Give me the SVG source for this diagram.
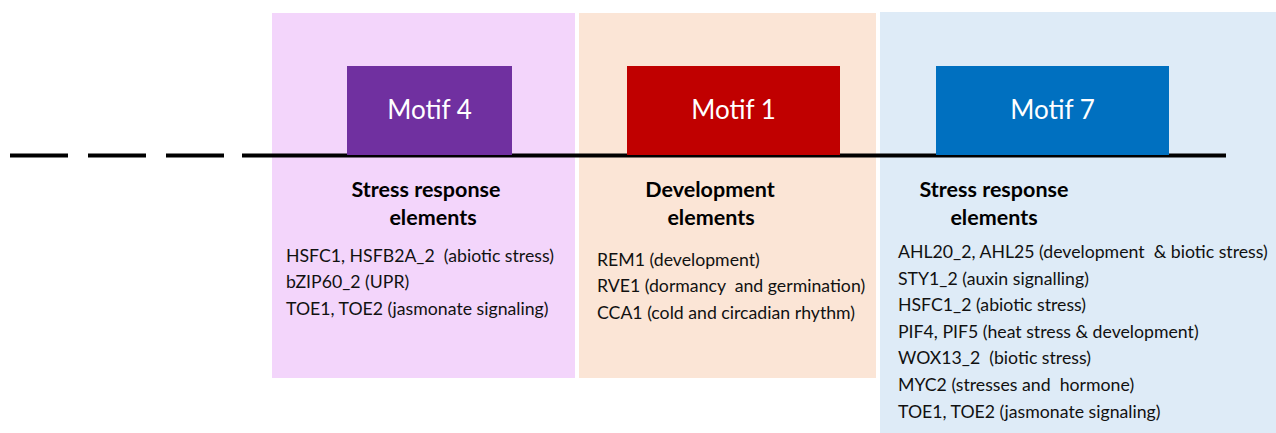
<svg xmlns="http://www.w3.org/2000/svg" width="1276" height="433" viewBox="0 0 1276 433">
<style>
text{white-space:pre}
.motif{font-family:Lato,"Open Sans",sans-serif;font-size:26px;fill:#fff;text-anchor:middle}
.head{font-family:Lato,"Open Sans",sans-serif;font-size:21.5px;font-weight:bold;fill:#000;text-anchor:middle}
.item{font-family:Lato,"Open Sans",sans-serif;font-size:17.7px;fill:#111}
</style>
<rect width="1276" height="433" fill="#fff"/>
<g id="panel-pink"><rect x="272" y="13" width="303" height="365" fill="#F3D5FB"/></g>
<g id="panel-peach"><rect x="579" y="13" width="297" height="365" fill="#FBE5D6"/></g>
<g id="panel-blue"><rect x="880" y="12" width="396" height="421" fill="#DEEBF7"/></g>
<g id="connectors">
<line x1="10" y1="155.5" x2="242" y2="155.5" stroke="#000" stroke-width="4" stroke-dasharray="58 20"/>
<line x1="242" y1="155.5" x2="1226" y2="155.5" stroke="#000" stroke-width="4"/>
</g>
<g id="motif4"><rect x="347" y="66" width="165" height="89" fill="#7030A0"/><text class="motif" x="429.5" y="119">Motif 4</text></g>
<g id="motif1"><rect x="627" y="66" width="213" height="89" fill="#C00000"/><text class="motif" x="733.5" y="119">Motif 1</text></g>
<g id="motif7"><rect x="936" y="66" width="233" height="89" fill="#0070C0"/><text class="motif" x="1052.5" y="119">Motif 7</text></g>
<g id="text-pink">
<text class="head" x="426" y="197">Stress response</text>
<text class="head" x="433" y="225">elements</text>
<text class="item" x="286" y="262">HSFC1, HSFB2A_2  (abiotic stress)</text>
<text class="item" x="286" y="288">bZIP60_2 (UPR)</text>
<text class="item" x="286" y="315">TOE1, TOE2 (jasmonate signaling)</text>
</g>
<g id="text-peach">
<text class="head" x="710" y="197">Development</text>
<text class="head" x="711" y="225">elements</text>
<text class="item" x="597" y="266">REM1 (development)</text>
<text class="item" x="597" y="292">RVE1 (dormancy  and germination)</text>
<text class="item" x="597" y="319">CCA1 (cold and circadian rhythm)</text>
</g>
<g id="text-blue">
<text class="head" x="994" y="197">Stress response</text>
<text class="head" x="994" y="225">elements</text>
<text class="item" x="898" y="258">AHL20_2, AHL25 (development  &amp; biotic stress)</text>
<text class="item" x="898" y="285">STY1_2 (auxin signalling)</text>
<text class="item" x="898" y="311">HSFC1_2 (abiotic stress)</text>
<text class="item" x="898" y="338">PIF4, PIF5 (heat stress &amp; development)</text>
<text class="item" x="898" y="364">WOX13_2  (biotic stress)</text>
<text class="item" x="898" y="391">MYC2 (stresses and  hormone)</text>
<text class="item" x="898" y="418">TOE1, TOE2 (jasmonate signaling)</text>
</g>
</svg>
